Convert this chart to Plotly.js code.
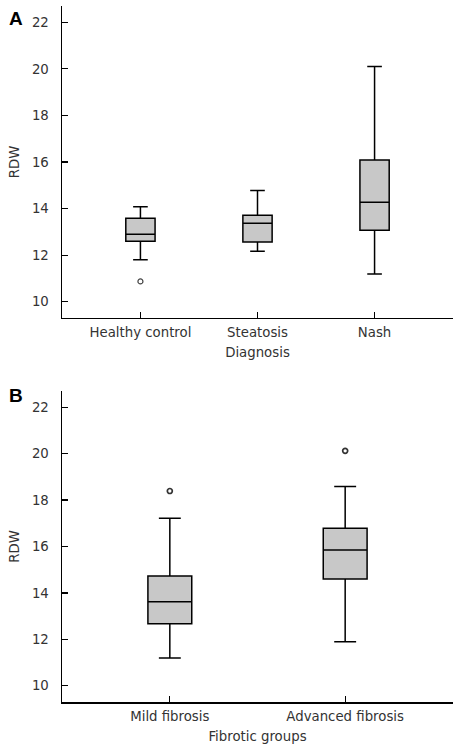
<!DOCTYPE html>
<html>
<head>
<meta charset="utf-8">
<script src="https://cdn.plot.ly/plotly-3.0.1.min.js"></script>
<style>html,body{margin:0;padding:0;background:#fff;}#chart{width:464px;height:751px;}</style>
</head>
<body>
<div id="chart"></div>
<script>
// Panel A: Diagnosis
const diagCats = ["Healthy control", "Steatosis", "Nash"];
const diagLower = [11.8, 12.17, 11.19];
const diagQ1 = [12.6, 12.56, 13.07];
const diagMedian = [12.9, 13.37, 14.27];
const diagQ3 = [13.58, 13.71, 16.09];
const diagUpper = [14.08, 14.78, 20.1];
const diagOutCats = ["Healthy control"];
const diagOutVals = [10.87];

// Panel B: Fibrotic groups
const fibCats = ["Mild fibrosis", "Advanced fibrosis"];
const fibLower = [11.2, 11.9];
const fibQ1 = [12.67, 14.6];
const fibMedian = [13.62, 15.85];
const fibQ3 = [14.73, 16.79];
const fibUpper = [17.22, 18.59];
const fibOutCats = ["Mild fibrosis", "Advanced fibrosis"];
const fibOutVals = [18.39, 20.12];

const yTicks = [10, 12, 14, 16, 18, 20, 22];

const boxStyle = {
  type: "box",
  fillcolor: "#c8c8c8",
  line: {color: "#000", width: 1.5},
  whiskerwidth: 0.5,
  boxpoints: false,
  hoverinfo: "skip",
  showlegend: false
};

const traces = [
  Object.assign({}, boxStyle, {
    x: diagCats, q1: diagQ1, median: diagMedian, q3: diagQ3,
    lowerfence: diagLower, upperfence: diagUpper, width: 0.25,
    xaxis: "x", yaxis: "y"
  }),
  {
    type: "scatter", mode: "markers", x: diagOutCats, y: diagOutVals,
    marker: {symbol: "circle-open", size: 5, color: "#444", line: {width: 1.2}},
    xaxis: "x", yaxis: "y", showlegend: false, hoverinfo: "skip"
  },
  Object.assign({}, boxStyle, {
    x: fibCats, q1: fibQ1, median: fibMedian, q3: fibQ3,
    lowerfence: fibLower, upperfence: fibUpper, width: 0.25,
    xaxis: "x2", yaxis: "y2"
  }),
  {
    type: "scatter", mode: "markers", x: fibOutCats, y: fibOutVals,
    marker: {symbol: "circle-open", size: 5, color: "#333", line: {width: 1.7}},
    xaxis: "x2", yaxis: "y2", showlegend: false, hoverinfo: "skip"
  }
];

const tickFont = {family: "DejaVu Sans, Verdana, sans-serif", size: 13.3, color: "#333"};
const titleFont = {family: "DejaVu Sans, Verdana, sans-serif", size: 13.3, color: "#333"};

const xCommon = {
  type: "category",
  showline: true, linecolor: "#000", linewidth: 1.5,
  ticks: "inside", ticklen: 6, tickcolor: "#000", tickwidth: 1.2,
  ticklabelstandoff: 2,
  showgrid: false, zeroline: false, tickfont: tickFont, fixedrange: true
};
const yCommon = {
  range: [9.3, 22.7],
  tickvals: yTicks,
  showline: true, linecolor: "#000", linewidth: 1.5,
  ticks: "inside", ticklen: 6, tickcolor: "#000", tickwidth: 1.2,
  ticklabelstandoff: 9,
  showgrid: false, zeroline: false, tickfont: tickFont, fixedrange: true,
  title: {text: "RDW", font: titleFont, standoff: 9}
};

const layout = {
  width: 464, height: 751,
  margin: {l: 62, r: 11, t: 0, b: 0},
  paper_bgcolor: "#fff", plot_bgcolor: "#fff",
  xaxis: Object.assign({}, xCommon, {
    domain: [0, 1], anchor: "y", range: [-0.67, 2.67],
    title: {text: "Diagnosis", font: titleFont, standoff: 8}
  }),
  yaxis: Object.assign({}, yCommon, {domain: [0.5766, 0.992], anchor: "x"}),
  xaxis2: Object.assign({}, xCommon, {
    domain: [0, 1], anchor: "y2", range: [-0.615, 1.615],
    title: {text: "Fibrotic groups", font: titleFont, standoff: 8}
  }),
  yaxis2: Object.assign({}, yCommon, {domain: [0.0652, 0.4794], anchor: "x2"}),
  annotations: [
    {text: "<b>A</b>", xref: "paper", yref: "paper", x: -0.14, y: 0.992,
     xanchor: "left", yanchor: "top", showarrow: false,
     font: {family: "Liberation Sans, Arial, sans-serif", size: 19, color: "#000"}},
    {text: "<b>B</b>", xref: "paper", yref: "paper", x: -0.14, y: 0.4906,
     xanchor: "left", yanchor: "top", showarrow: false,
     font: {family: "Liberation Sans, Arial, sans-serif", size: 19, color: "#000"}}
  ]
};

Plotly.newPlot("chart", traces, layout, {displayModeBar: false, staticPlot: true});
</script>
</body>
</html>
